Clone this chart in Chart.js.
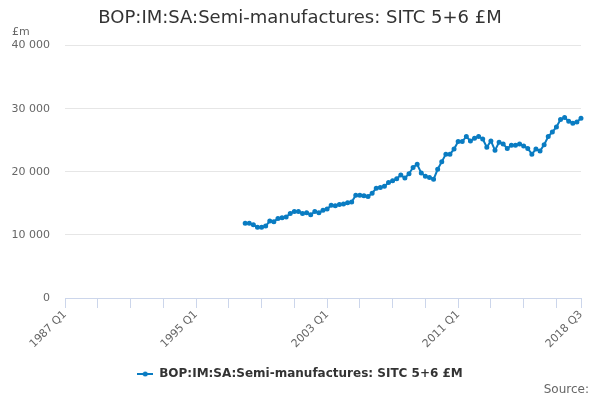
<!DOCTYPE html>
<html>
<head>
<meta charset="utf-8">
<script src="https://cdn.jsdelivr.net/npm/chart.js@4.4.0/dist/chart.umd.min.js"></script>
<style>
  html, body { margin: 0; padding: 0; background: #fff; }
  #wrap { position: relative; width: 600px; height: 400px; }
  #unit { position: absolute; left: 12px; top: 25px; font: 11px "DejaVu Sans"; color: #666; }
  #source { position: absolute; right: 11px; top: 382px; font: 12px "DejaVu Sans"; color: #666; }
</style>
</head>
<body>
<div id="wrap">
  <canvas id="chart" width="600" height="400" style="width:600px;height:400px"></canvas>
  <div id="unit">£m</div>
  <div id="source">Source:</div>
</div>
<script>
// quarters 1987 Q1 .. 2018 Q3
const quarters = [];
for (let y = 1987; y <= 2018; y++) {
  for (let q = 1; q <= 4; q++) {
    if (y === 2018 && q > 3) break;
    quarters.push(y + ' Q' + q);
  }
}

const seriesName = 'BOP:IM:SA:Semi-manufactures: SITC 5+6 £M';
const seriesStart = '1998 Q1';
// £m, 1998 Q1 .. 2018 Q3
const seriesValues = [
  11850, 11850, 11600, 11200, 11200, 11400, 12200, 12100,
  12600, 12700, 12850, 13400, 13700, 13700, 13400, 13500,
  13200, 13700, 13500, 13900, 14100, 14700, 14600, 14800,
  14900, 15100, 15200, 16300, 16300, 16200, 16100, 16600,
  17400, 17500, 17700, 18300, 18600, 18900, 19500, 19000,
  19700, 20700, 21200, 19800, 19300, 19100, 18800, 20400,
  21600, 22800, 22800, 23600, 24800, 24800, 25600, 24900,
  25300, 25600, 25200, 23900, 24900, 23400, 24700, 24400,
  23700, 24200, 24200, 24400, 24100, 23700, 22800, 23600,
  23300, 24300, 25600, 26300, 27100, 28300, 28600, 28000,
  27700, 27900, 28500
];
const labelledQuarters = ['1987 Q1', '1995 Q1', '2003 Q1', '2011 Q1', '2018 Q3'];
const yTicks = [0, 10000, 20000, 30000, 40000];

const startIdx = quarters.indexOf(seriesStart);
const data = quarters.map((q, i) => {
  const k = i - startIdx;
  return k >= 0 && k < seriesValues.length ? seriesValues[k] : null;
});

const lineColor = '#0a7cc2';
const font = '"DejaVu Sans", sans-serif';

// legend symbol: line with a dot
const sym = document.createElement('canvas');
sym.width = 16; sym.height = 8;
const sc = sym.getContext('2d');
sc.strokeStyle = lineColor; sc.lineWidth = 2;
sc.beginPath(); sc.moveTo(0, 4); sc.lineTo(16, 4); sc.stroke();
sc.fillStyle = lineColor;
sc.beginPath(); sc.arc(8, 4, 2.5, 0, Math.PI * 2); sc.fill();

const fmt = v => String(v).replace(/\B(?=(\d{3})+(?!\d))/g, ' ');

new Chart(document.getElementById('chart'), {
  type: 'line',
  data: {
    labels: quarters,
    datasets: [{
      label: seriesName,
      data: data,
      borderColor: lineColor,
      backgroundColor: lineColor,
      borderWidth: 2,
      pointRadius: 1.5,
      pointHoverRadius: 2,
      tension: 0
    }]
  },
  options: {
    responsive: false,
    animation: false,
    layout: { padding: { left: 0, right: 0, top: 0, bottom: 10 } },
    plugins: {
      title: {
        display: true,
        text: seriesName,
        color: '#333',
        font: { family: font, size: 18, weight: 'normal' },
        padding: { top: 8, bottom: 16 }
      },
      legend: {
        position: 'bottom',
        labels: {
          color: '#333',
          font: { family: font, size: 12, weight: 'bold' },
          usePointStyle: true,
          pointStyleWidth: 16,
          padding: 10,
          generateLabels: chart => Chart.defaults.plugins.legend.labels.generateLabels(chart)
            .map(l => Object.assign(l, { pointStyle: sym }))
        }
      },
      tooltip: { enabled: false }
    },
    scales: {
      x: {
        grid: {
          drawOnChartArea: false,
          drawTicks: true,
          tickLength: 10,
          color: c => (c.index % 8 === 0 || c.index === quarters.length - 1) ? '#ccd6eb' : 'rgba(0,0,0,0)'
        },
        border: { color: '#ccd6eb', width: 1 },
        ticks: {
          autoSkip: false,
          minRotation: 45,
          maxRotation: 45,
          color: '#666',
          font: { family: font, size: 11 },
          padding: 0,
          callback: function (v, i) {
            return labelledQuarters.includes(quarters[i]) ? quarters[i] : '';
          }
        },
        afterFit: s => { s.height = 60; }
      },
      y: {
        min: 0,
        max: 40000,
        afterBuildTicks: s => { s.ticks = yTicks.map(v => ({ value: v })); },
        grid: { color: '#e6e6e6', drawTicks: false },
        border: { display: false },
        ticks: {
          color: '#666',
          font: { family: font, size: 11 },
          padding: 15,
          callback: v => fmt(v)
        },
        afterFit: s => { s.width = 65; }
      },
      // empty right-hand spacer so the plot ends where the reference does
      yRight: {
        position: 'right',
        min: 0,
        max: 40000,
        grid: { display: false },
        border: { display: false },
        ticks: { display: false },
        afterFit: s => { s.width = 19; }
      }
    }
  }
});
</script>
</body>
</html>
